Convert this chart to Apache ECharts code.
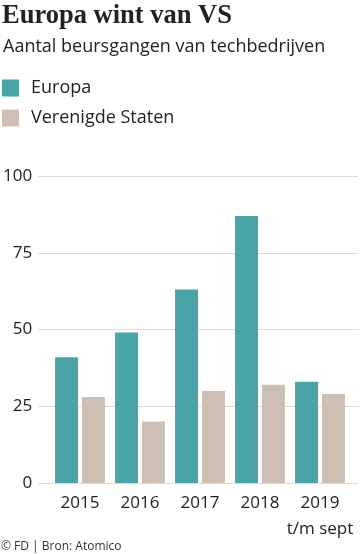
<!DOCTYPE html>
<html><head><meta charset="utf-8">
<script src="https://cdn.jsdelivr.net/npm/echarts@6/dist/echarts.min.js"></script>
<style>html,body{margin:0;padding:0;background:#fff}#c{width:360px;height:554px}</style>
</head><body><div id="c"></div>
<script>
const categories = ['2015', '2016', '2017', '2018', '2019'];
const tickLabels = ['2015', '2016', '2017', '2018', '2019\nt/m sept'];
const europa = [41, 49, 63, 87, 33];
const verenigdeStaten = [28, 20, 30, 32, 29];
const yTicks = [0, 25, 50, 75, 100];

const FONT = 'Open Sans';
const chart = echarts.init(document.getElementById('c'), null, {renderer: 'canvas'});
chart.setOption({
  animation: false,
  backgroundColor: '#fff',
  title: [
    {text: 'Europa wint van VS', left: 2, top: 3, padding: 0,
     textStyle: {fontFamily: 'Liberation Serif', fontWeight: 'bold', fontSize: 26.5, color: '#222'}},
    {text: 'Aantal beursgangen van techbedrijven', left: 3, top: 38, padding: 0,
     textStyle: {fontFamily: FONT, fontWeight: 'normal', fontSize: 18, color: '#222'}},
    {text: '© FD | Bron: Atomico', left: 1, top: 541, padding: 0,
     textStyle: {fontFamily: FONT, fontWeight: 'normal', fontSize: 12, color: '#333'}}
  ],
  legend: {
    orient: 'vertical', left: 2, top: 79, padding: 0, itemWidth: 17, itemHeight: 17, itemGap: 12,
    icon: 'rect', textStyle: {fontFamily: FONT, fontSize: 18, color: '#222', padding: [0, 0, 0, 7]},
    data: ['Europa', 'Verenigde Staten']
  },
  grid: [
    {left: 37, right: 2, top: 176, bottom: 71},
    {left: 50, right: 10, top: 176, bottom: 71}
  ],
  xAxis: [
    {gridIndex: 0, type: 'value', show: false, min: 0, max: 1},
    {gridIndex: 1, type: 'category', data: tickLabels,
     axisLine: {show: false}, axisTick: {show: false},
     axisLabel: {interval: 0, fontFamily: FONT, fontSize: 17, color: '#222', margin: 7, lineHeight: 26}}
  ],
  yAxis: [
    {gridIndex: 0, type: 'value', min: 0, max: 100, interval: 25,
     axisLine: {show: false}, axisTick: {show: false},
     axisLabel: {fontFamily: FONT, fontSize: 17, color: '#222', margin: 6},
     splitLine: {lineStyle: {color: '#e3d8d3', width: 1}}},
    {gridIndex: 1, type: 'value', min: 0, max: 100, interval: 25, show: false, splitLine: {show: false}}
  ],
  series: [
    {name: 'Europa', type: 'bar', xAxisIndex: 1, yAxisIndex: 1, data: europa,
     barWidth: 23, barGap: '17%', itemStyle: {color: '#48a4a6'}},
    {name: 'Verenigde Staten', type: 'bar', xAxisIndex: 1, yAxisIndex: 1, data: verenigdeStaten,
     barWidth: 23, itemStyle: {color: '#cdbfb4'}}
  ]
});
</script></body></html>
